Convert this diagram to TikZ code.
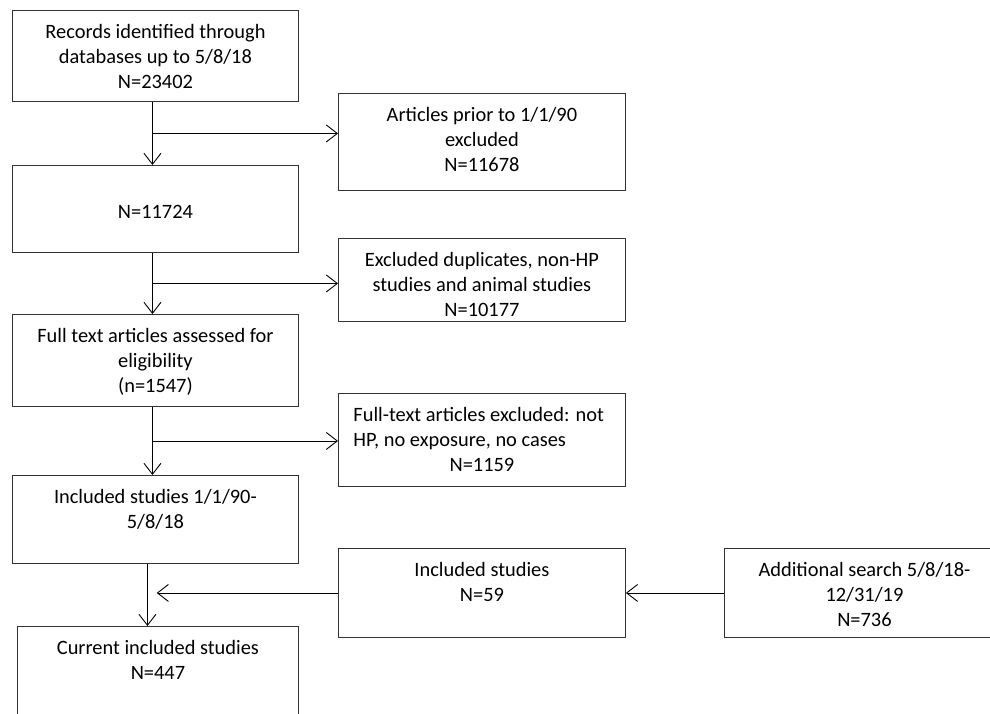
\documentclass[tikz,border=0pt]{standalone}
\usepackage{fontspec}
\setmainfont{Carlito}
\usetikzlibrary{arrows.meta,positioning,calc}

% box text: width, height, lines (top aligned)
\newcommand{\boxtext}[3]{\parbox[c][#2][t]{#1}{\fontsize{20.4}{25}\selectfont\centering\rule{0pt}{28pt}#3}}

\begin{document}
\begin{tikzpicture}[x=1pt, y=-1pt, ->, >={Straight Barb[length=11pt,width=17pt]}, line width=0.9pt,
  flow/.style={draw=black!80, inner sep=0pt, anchor=north west, line width=0.9pt}]

\useasboundingbox (0,0) rectangle (990,713);

% main column
\node[flow] (rec)  at (12,10)  {\boxtext{286pt}{91pt}{Records identified through\\databases up to 5/8/18\\N=23402}};
\node[flow] (n1)   at (12,165) {\boxtext{286pt}{87pt}{\mbox{}\\N=11724}};
\node[flow] (full) at (12,314) {\boxtext{286pt}{92pt}{Full text articles assessed for\\eligibility\\(n=1547)}};
\node[flow] (inc)  at (12,475) {\boxtext{286pt}{88pt}{Included studies 1/1/90-\\5/8/18}};
\node[flow] (cur)  at (17,626) {\boxtext{281pt}{120pt}{Current included studies\\N=447}};

% excluded side
\node[flow] (prior) at (338,93)  {\boxtext{287pt}{97pt}{Articles prior to 1/1/90\\excluded\\N=11678}};
\node[flow] (dup)   at (338,238) {\boxtext{287pt}{83pt}{Excluded duplicates, non-HP\\studies and animal studies\\N=10177}};
\node[flow] (excl)  at (338,393) {\boxtext{287pt}{93pt}{\makebox[\linewidth][l]{\hspace{15pt}Full-text articles excluded: not}\\\makebox[\linewidth][l]{\hspace{15pt}HP, no exposure, no cases}\\N=1159}};

% additional search
\node[flow] (n59) at (338,548) {\boxtext{287pt}{89pt}{Included studies\\N=59}};
\node[flow] (add) at (724,548) {\boxtext{280pt}{89pt}{Additional search 5/8/18-\\12/31/19\\N=736}};

\coordinate (s1) at ($([xshift=-3pt]rec.south)!0.5!([xshift=-3pt]n1.north)$);
\coordinate (s2) at ($([xshift=-3pt]n1.south)!0.5!([xshift=-3pt]full.north)$);
\coordinate (s3) at ($([xshift=-3pt]full.south)!0.5!([xshift=-3pt]inc.north)$);
\coordinate (join) at ($(inc.south)!0.5!(cur.north)$);

\draw ([xshift=-3pt]rec.south) -- ([xshift=-3pt]n1.north);
\draw ([xshift=-3pt]n1.south) -- ([xshift=-3pt]full.north);
\draw ([xshift=-3pt]full.south) -- ([xshift=-3pt]inc.north);
\draw ([xshift=-8pt]inc.south) -- ([xshift=-8pt]inc.south |- cur.north);

\draw (s1) -- (s1 -| prior.west);
\draw (s2) -- (s2 -| dup.west);
\draw (s3) -- (s3 -| excl.west);

\draw (add.west) -- (n59.east);
\draw (n59.west) -- (n59.west -| join);

\end{tikzpicture}
\end{document}
